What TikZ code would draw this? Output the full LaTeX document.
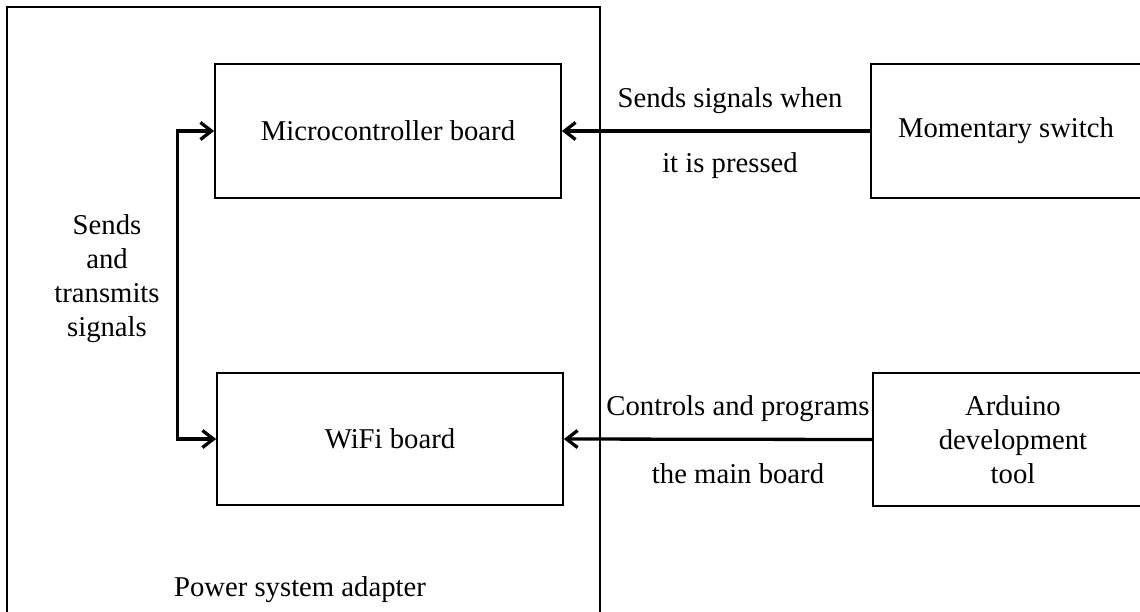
\documentclass[tikz,border=0pt]{standalone}
\usepackage{fontspec}
\setmainfont{Liberation Serif}
\usetikzlibrary{arrows.meta}

\begin{document}
\begin{tikzpicture}[x=1pt,y=-1pt,
	every node/.style={font=\fontsize{28.7}{34}\selectfont},
	box/.style={draw,line width=1.7pt,inner sep=0pt,align=center},
	lbl/.style={anchor=base,inner sep=0pt},
	link/.style={line width=3.3pt},
	>={Straight Barb[length=11pt,width=17pt]}]
	
	\useasboundingbox (0,0) rectangle (1140,611);
	\clip (0,0) rectangle (1140,611);
	\draw[line width=1.3pt] (7,7) rectangle (600,660);
	\node[lbl] (adapter) at (300,596) {Power system adapter};
	
	\node[box,minimum width=346pt,minimum height=134pt] (mc) at (388,131) {Microcontroller board};
	\node[box,minimum width=346pt,minimum height=132pt] (wifi) at (390,439) {WiFi board};
	\node[box,minimum width=270pt,minimum height=134pt] (switch) at (1006,131) {Momentary switch};
	\node[box,minimum width=280pt,minimum height=133pt,text depth=0pt] (arduino) at (1013,439.5) {Arduino\\development\\tool};
	
	\draw[link,<->] (mc.west) -- ++(-37,0) |- (wifi.west);
	\node[align=center,inner sep=0pt] (sends) at (107,279) {Sends\\and\\transmits\\signals};
	
	\draw[link,->] (switch.west) -- (mc.east);
	\node[lbl] (when) at (730,107) {Sends signals when};
	\node[lbl] (pressed) at (730,172) {it is pressed};
	
	\draw[link,->] (arduino.west) -- (wifi.east);
	\node[lbl] (controls) at (738,415) {Controls and programs};
	\node[lbl] (mainboard) at (738,483) {the main board};
\end{tikzpicture}
\end{document}
